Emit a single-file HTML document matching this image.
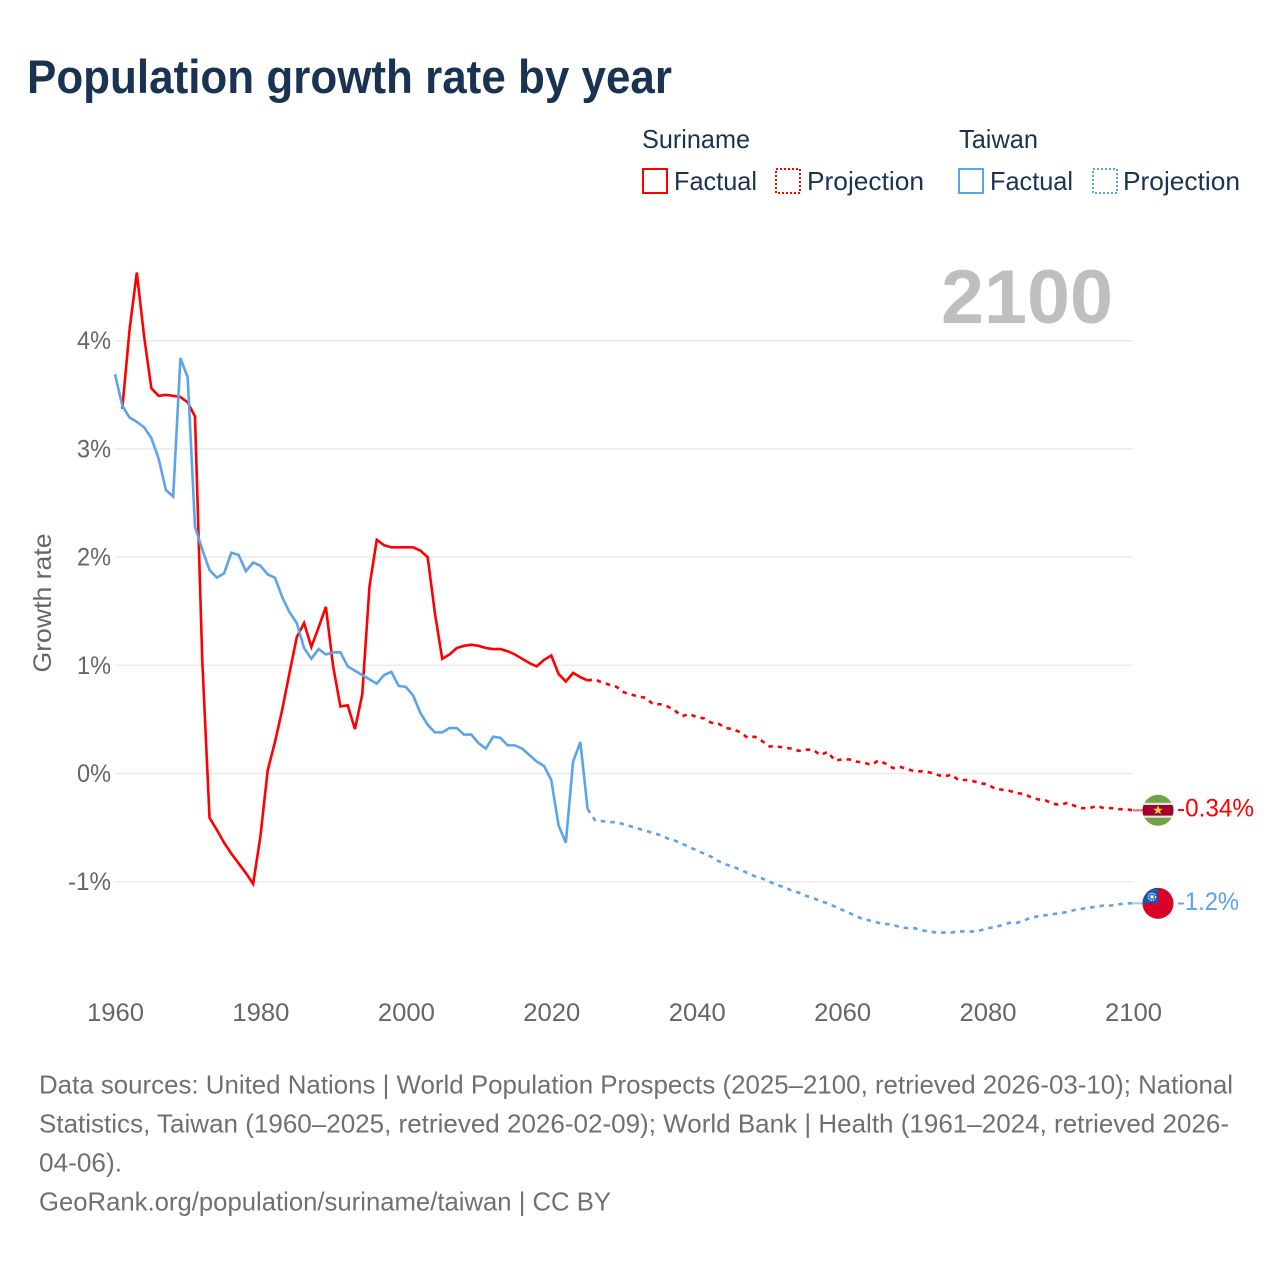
<!DOCTYPE html>
<html lang="en">
<head>
<meta charset="utf-8">
<title>Population growth rate by year</title>
<style>
html,body{margin:0;padding:0;background:#fff;}
svg{display:block;font-family:"Liberation Sans",sans-serif;}
</style>
</head>
<body>
<svg id="chart" xmlns="http://www.w3.org/2000/svg" width="1280" height="1280" viewBox="0 0 1280 1280">
  <rect width="1280" height="1280" fill="#fff"/>
  <text x="27" y="93" font-size="47" font-weight="700" fill="#1b3353" textLength="645" lengthAdjust="spacingAndGlyphs">Population growth rate by year</text>

  <g font-size="26" fill="#1b3353">
    <text x="642" y="148" textLength="108" lengthAdjust="spacingAndGlyphs">Suriname</text>
    <text x="959" y="148" textLength="79" lengthAdjust="spacingAndGlyphs">Taiwan</text>
    <rect x="643" y="169" width="24" height="24" fill="none" stroke="#ff0000" stroke-width="2"/>
    <text x="674" y="190" textLength="83" lengthAdjust="spacingAndGlyphs">Factual</text>
    <rect x="776" y="169" width="24" height="24" fill="none" stroke="#ff0000" stroke-width="2" stroke-dasharray="2 2" shape-rendering="crispEdges"/>
    <text x="807" y="190" textLength="117" lengthAdjust="spacingAndGlyphs">Projection</text>
    <rect x="959" y="169" width="24" height="24" fill="none" stroke="#5ba4ec" stroke-width="2"/>
    <text x="990" y="190" textLength="83" lengthAdjust="spacingAndGlyphs">Factual</text>
    <rect x="1093" y="169" width="24" height="24" fill="none" stroke="#5ba4ec" stroke-width="2" stroke-dasharray="2 2" shape-rendering="crispEdges"/>
    <text x="1123" y="190" textLength="117" lengthAdjust="spacingAndGlyphs">Projection</text>
  </g>

  <g id="grid"></g>
  <text x="941" y="323" font-size="76" font-weight="700" fill="#bfbfbf" textLength="172" lengthAdjust="spacingAndGlyphs">2100</text>
  <g id="yAxis" font-size="25" fill="#666666"></g>
  <g id="xAxis" font-size="25" fill="#666666"></g>
  <text transform="translate(51 603) rotate(-90)" text-anchor="middle" font-size="25" fill="#666666" textLength="139" lengthAdjust="spacingAndGlyphs">Growth rate</text>
  <g id="series"></g>
  <g id="endMarks"></g>

  <g font-size="26" fill="#707070">
    <text x="39" y="1093.5" textLength="1194" lengthAdjust="spacingAndGlyphs">Data sources: United Nations | World Population Prospects (2025–2100, retrieved 2026-03-10); National</text>
    <text x="39" y="1132.5" textLength="1190" lengthAdjust="spacingAndGlyphs">Statistics, Taiwan (1960–2025, retrieved 2026-02-09); World Bank | Health (1961–2024, retrieved 2026-</text>
    <text x="39" y="1171.5" textLength="83" lengthAdjust="spacingAndGlyphs">04-06).</text>
    <text x="39" y="1210.5" textLength="572" lengthAdjust="spacingAndGlyphs">GeoRank.org/population/suriname/taiwan | CC BY</text>
  </g>
</svg>
<script>
const xTickYears = [1960, 1980, 2000, 2020, 2040, 2060, 2080, 2100];
const yTickValues = [-1, 0, 1, 2, 3, 4];
const yTickLabels = ['-1%', '0%', '1%', '2%', '3%', '4%'];
const surinameFactualStart = 1961;
const surinameFactual = [
  3.37,4.10,4.63,4.04,3.56,3.49,3.50,3.49,3.48,
  3.43,3.30,1.05,-0.41,-0.52,-0.64,-0.74,-0.83,-0.92,-1.02,
  -0.58,0.03,0.29,0.59,0.93,1.26,1.39,1.17,1.35,1.54,
  0.99,0.62,0.63,0.41,0.73,1.73,2.16,2.11,2.09,2.09,
  2.09,2.09,2.06,2.00,1.48,1.06,1.10,1.16,1.18,1.19,
  1.18,1.16,1.15,1.15,1.13,1.10,1.06,1.02,0.99,1.05,
  1.09,0.92,0.85,0.93,0.89,0.86
];
const surinameProjectionStart = 2025;
const surinameProjection = [
  0.86,0.87,0.84,0.82,0.80,
  0.75,0.73,0.71,0.70,0.64,0.64,0.62,0.58,0.53,0.55,
  0.52,0.51,0.47,0.46,0.42,0.41,0.38,0.33,0.34,0.30,
  0.25,0.25,0.24,0.23,0.21,0.22,0.22,0.17,0.20,0.12,
  0.13,0.13,0.11,0.10,0.08,0.12,0.09,0.05,0.06,0.04,
  0.02,0.02,0.01,-0.01,-0.03,-0.01,-0.06,-0.06,-0.07,-0.09,
  -0.10,-0.14,-0.15,-0.16,-0.18,-0.19,-0.22,-0.24,-0.25,-0.28,
  -0.29,-0.27,-0.30,-0.32,-0.32,-0.30,-0.32,-0.32,-0.33,-0.33,
  -0.34
];
const taiwanFactualStart = 1960;
const taiwanFactual = [
  3.69,3.40,3.29,3.25,3.20,3.10,2.91,2.62,2.56,3.84,
  3.66,2.28,2.07,1.88,1.81,1.85,2.04,2.02,1.87,1.95,
  1.92,1.84,1.81,1.63,1.49,1.39,1.16,1.06,1.15,1.10,
  1.12,1.12,0.99,0.95,0.91,0.87,0.83,0.91,0.94,0.81,
  0.80,0.72,0.56,0.45,0.38,0.38,0.42,0.42,0.36,0.36,
  0.28,0.23,0.34,0.33,0.26,0.26,0.23,0.17,0.11,0.07,
  -0.06,-0.48,-0.64,0.11,0.29,-0.33
];
const taiwanProjectionStart = 2025;
const taiwanProjection = [
  -0.33,-0.43,-0.44,-0.45,-0.45,
  -0.47,-0.49,-0.51,-0.53,-0.55,-0.57,-0.60,-0.62,-0.65,-0.68,
  -0.71,-0.74,-0.77,-0.81,-0.84,-0.86,-0.89,-0.92,-0.95,-0.97,
  -1.00,-1.03,-1.05,-1.08,-1.10,-1.13,-1.15,-1.18,-1.20,-1.23,
  -1.26,-1.29,-1.32,-1.35,-1.36,-1.38,-1.39,-1.40,-1.42,-1.43,
  -1.43,-1.45,-1.46,-1.47,-1.47,-1.47,-1.46,-1.46,-1.46,-1.45,
  -1.43,-1.42,-1.40,-1.38,-1.38,-1.36,-1.33,-1.32,-1.31,-1.30,
  -1.29,-1.28,-1.26,-1.25,-1.24,-1.23,-1.22,-1.22,-1.21,-1.20,
  -1.20
];
const surinameEndLabel = '-0.34%';
const taiwanEndLabel = '-1.2%';

const NS = 'http://www.w3.org/2000/svg';
const RED = '#ff0000';
const BLUE = '#5ba4ec';
const xScale = year => 115 + (year - 1960) * (1133 - 115) / 140;
const yScale = value => 773.5 - value * 108.2;

function make(tag, parent, attrs) {
  const node = document.createElementNS(NS, tag);
  for (const key in attrs) node.setAttribute(key, attrs[key]);
  parent.appendChild(node);
  return node;
}

function pathFor(values, startYear) {
  return values.map((v, i) => (i ? 'L' : 'M') + xScale(startYear + i).toFixed(2) + ' ' + yScale(v).toFixed(2)).join(' ');
}

const gridGroup = document.getElementById('grid');
const yAxisGroup = document.getElementById('yAxis');
const xAxisGroup = document.getElementById('xAxis');
const seriesGroup = document.getElementById('series');
const endGroup = document.getElementById('endMarks');

yTickValues.forEach((value, i) => {
  const line = make('line', gridGroup, {x1: xScale(1960), x2: xScale(2100), y1: yScale(value), y2: yScale(value), stroke: '#ebebeb', 'stroke-width': 1.5});
  
  
  const label = make('text', yAxisGroup, {x: 111, y: yScale(value) + 8.5, 'text-anchor': 'end', textLength: yTickLabels[i].length === 3 ? 43 : 34, lengthAdjust: 'spacingAndGlyphs'});
  label.textContent = yTickLabels[i];
  
  
});

xTickYears.forEach(year => {
  const label = make('text', xAxisGroup, {x: xScale(year) + 0.5, y: 1021, 'text-anchor': 'middle', textLength: 57, lengthAdjust: 'spacingAndGlyphs'});
  label.textContent = String(year);
  
  
});

function drawSeries(values, startYear, color, dashed, name) {
  const attrs = {d: pathFor(values, startYear), fill: 'none', stroke: color, 'stroke-width': 2.6, 'stroke-linejoin': 'miter'};
  if (dashed) attrs['stroke-dasharray'] = '4.5 5';
  const line = make('path', seriesGroup, attrs);
  
  
}
drawSeries(surinameProjection, surinameProjectionStart, RED, true, 'suriname-projection-line');
drawSeries(taiwanProjection, taiwanProjectionStart, BLUE, true, 'taiwan-projection-line');
drawSeries(surinameFactual, surinameFactualStart, RED, false, 'suriname-factual-line');
drawSeries(taiwanFactual, taiwanFactualStart, BLUE, false, 'taiwan-factual-line');

const flagX = 1158;
const surinameEndY = yScale(surinameProjection[surinameProjection.length - 1]);
const taiwanEndY = yScale(taiwanProjection[taiwanProjection.length - 1]);

function connector(y, color, name) {
  const line = make('line', endGroup, {x1: xScale(2100), x2: flagX - 15, y1: y, y2: y, stroke: color, 'stroke-width': 2, opacity: 0.6});
  
  
}
connector(surinameEndY, RED, 'suriname-end-connector');
connector(taiwanEndY, BLUE, 'taiwan-end-connector');

const defs = make('defs', endGroup, {});
const clipA = make('clipPath', defs, {id: 'clip-flag'});
make('circle', clipA, {cx: 0, cy: 0, r: 15.5});

const srFlag = make('g', endGroup, {transform: `translate(${flagX} ${surinameEndY})`, 'clip-path': 'url(#clip-flag)'});


make('rect', srFlag, {x: -16, y: -16, width: 32, height: 32, fill: '#73a14a'});
make('rect', srFlag, {x: -16, y: -7.5, width: 32, height: 15, fill: '#e4e4e4'});
make('rect', srFlag, {x: -16, y: -5.3, width: 32, height: 10.6, fill: '#a5002b'});
make('polygon', srFlag, {points: '0,-5 1.3,-1.6 4.8,-1.5 2,0.6 3,4 0,2 -3,4 -2,0.6 -4.8,-1.5 -1.3,-1.6', fill: '#f7d147'});

const twFlag = make('g', endGroup, {transform: `translate(${flagX} ${taiwanEndY})`, 'clip-path': 'url(#clip-flag)'});


make('rect', twFlag, {x: -16, y: -16, width: 32, height: 32, fill: '#d9002a'});
make('rect', twFlag, {x: -16, y: -16, width: 16, height: 16, fill: '#1259b0'});
make('circle', twFlag, {cx: -6, cy: -6.5, r: 3.6, fill: 'none', stroke: '#fff', 'stroke-width': 1.4, 'stroke-dasharray': '1 0.8'});
make('circle', twFlag, {cx: -6, cy: -6.5, r: 1.7, fill: '#fff'});

const surinameLabel = make('text', endGroup, {x: 1177, y: surinameEndY + 6, 'font-size': 25, fill: RED, textLength: 77, lengthAdjust: 'spacingAndGlyphs'});
surinameLabel.textContent = surinameEndLabel;



const taiwanLabel = make('text', endGroup, {x: 1177, y: taiwanEndY + 6.5, 'font-size': 25, fill: BLUE, textLength: 62, lengthAdjust: 'spacingAndGlyphs'});
taiwanLabel.textContent = taiwanEndLabel;


</script>
</body>
</html>
